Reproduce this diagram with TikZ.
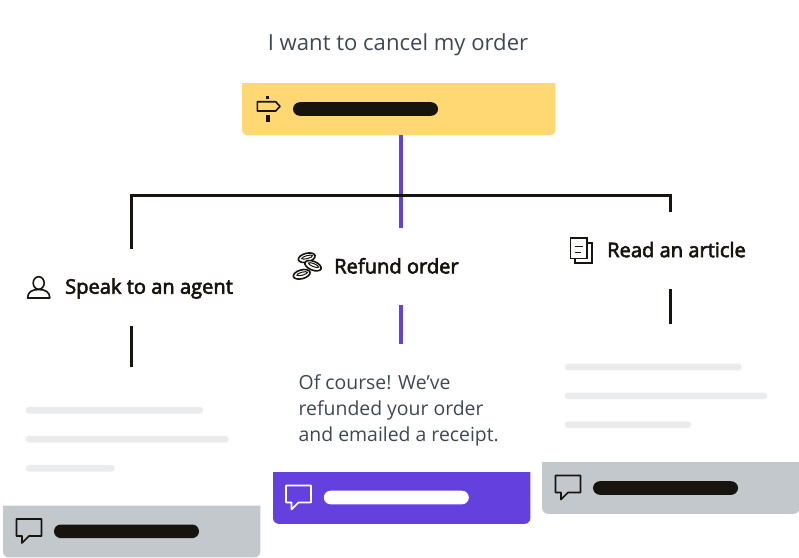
\documentclass[tikz,border=0pt]{standalone}
\usepackage{fontspec}
\setmainfont{Open Sans}
\newfontfamily\headfont[FakeBold=3]{Open Sans}
\usetikzlibrary{positioning}
\definecolor{ink}{HTML}{17140E}
\definecolor{slate}{HTML}{3F4852}
\definecolor{sun}{HTML}{FFD773}
\definecolor{violet}{HTML}{6440DE}
\definecolor{steel}{HTML}{C3C8CD}
\definecolor{mist}{HTML}{EAEBEC}
\tikzstyle{card} = [rectangle, minimum width=257pt, minimum height=51.5pt, inner sep=0pt, anchor=north west]
\tikzstyle{bar} = [rectangle, rounded corners=6.8pt, minimum width=145pt, minimum height=13.6pt, inner sep=0pt, fill=ink]
\tikzstyle{ghost} = [rectangle, rounded corners=3.2pt, minimum height=6.6pt, inner sep=0pt, fill=mist, anchor=north west]
\tikzstyle{title} = [text=ink, font=\fontsize{20.1}{24}\selectfont\headfont, anchor=west, inner sep=0pt]
\tikzstyle{blackline} = [ink, line width=3pt]
\tikzstyle{violetline} = [violet, line width=3.6pt]
\tikzstyle{icon} = [ink, line width=1.6pt]
\tikzset{bubble/.pic={
  \draw [line width=1.7pt, line join=round] (-12.5,-12) -- (12.5,-12) -- (12.5,5) -- (0,5) -- (-7,12) -- (-7,5) -- (-12.5,5) -- cycle;
}}
% bottom corners only
\newcommand{\cardfill}[2]{\fill [#2] (#1.north west) -- (#1.north east) [rounded corners=6pt] -- (#1.south east) -- (#1.south west) [sharp corners] -- cycle;}
\begin{document}
\begin{tikzpicture}[x=1pt, y=-1pt]
\useasboundingbox (0,0) rectangle (799,557);

\node (ask) [text=slate, font=\fontsize{22.1}{26}\selectfont, inner sep=0pt] at (398,45) {I want to cancel my order};

% cards
\node (topcard) [card, minimum width=313pt, minimum height=52pt] at (242,83) {};
\node (agentcard) [card] at (3,505.5) {};
\node (refundcard) [card] at (273,472) {};
\node (articlecard) [card] at (542,462) {};
\cardfill{topcard}{sun}
\cardfill{agentcard}{steel}
\cardfill{refundcard}{violet}
\cardfill{articlecard}{steel}
\node (topbar) [bar] at (365.5,109) {};
\node (agentbar) [bar] at (126.5,531.3) {};
\node (refundbar) [bar, fill=white] at (396.3,497.5) {};
\node (articlebar) [bar] at (665.5,488) {};

% headings
\node (agent) [title] at (65,288.5) {Speak to an agent};
\node (refund) [title] at (334,265.8) {Refund order};
\node (article) [title] at (607,249.6) {Read an article};

% connectors
\coordinate (stemend) at (401,228);
\coordinate (cornerleft) at (131.5,195.5);
\coordinate (cornerright) at (670,195.5);
\coordinate (dropleft) at (131.5,249);
\coordinate (dropright) at (670,212);
\coordinate (agenttop) at (131.5,326);
\coordinate (agentend) at (131.5,367);
\coordinate (refundtop) at (401,305);
\coordinate (refundend) at (401,344);
\coordinate (articletop) at (670,289);
\coordinate (articleend) at (670,324);
\draw [violetline] (topcard.south -| stemend) -- (stemend);
\draw [blackline] (dropleft) -- (cornerleft) -- (cornerright) -- (dropright);
\draw [blackline] (agenttop) -- (agentend);
\draw [violetline] (refundtop) -- (refundend);
\draw [blackline] (articletop) -- (articleend);

% placeholder text
\node (ghosta) [ghost, minimum width=177.5pt] at (25.5,406.7) {};
\node (ghostb) [ghost, minimum width=203pt] at (25.5,435.7) {};
\node (ghostc) [ghost, minimum width=89pt] at (25.5,464.7) {};
\node (ghostd) [ghost, minimum width=177pt] at (564.5,363.5) {};
\node (ghoste) [ghost, minimum width=202.5pt] at (564.5,392.3) {};
\node (ghostf) [ghost, minimum width=126.5pt] at (564.5,421.2) {};

\node (reply) [text=slate, font=\fontsize{19.4}{26}\selectfont, align=left, anchor=west, inner sep=0pt] at (298.5,410.5) {Of course! We’ve\\refunded your order\\and emailed a receipt.};

% icons
\pic [ink] at (29,531) {bubble};
\pic [white] at (298.5,497.5) {bubble};
\pic [ink] at (568,487.5) {bubble};

% signpost
\fill [ink] (266.2,96) rectangle (269.4,99.2);
\fill [ink] (266.4,114.5) rectangle (269.6,122);
\draw [icon, line join=round] (257.3,101.7) -- (275.7,101.7) -- (280,106.4) -- (275.7,111) -- (257.3,111) -- cycle;

% person
\draw [icon] (38.7,283) ellipse [x radius=5.5pt, y radius=6.3pt];
\draw [icon, line join=round] (27.6,298) .. controls (27.6,292) and (32,289.5) .. (38.7,289.5) .. controls (45.4,289.5) and (49.8,292) .. (49.8,298) -- cycle;

% coins
\foreach \cx/\cy/\ang in {306.7/257.7/15, 313/265.7/-22, 301.7/274.3/15} {
  \draw [icon, fill=white] (\cx,\cy) ellipse [x radius=8.6pt, y radius=4.4pt, rotate=\ang];
  \draw [ink, line width=1pt] (\cx+0.5,\cy-0.6) ellipse [x radius=5.5pt, y radius=1.5pt, rotate=\ang];
}

% article
\draw [icon] (587,243) -- (591.7,243) -- (591.7,262.7) -- (575,262.7) -- (575,258.3);
\draw [icon] (570.5,238) rectangle (586.8,258.3);
\draw [icon] (575,246.5) -- (583,246.5);
\draw [icon] (575,252.3) -- (581,252.3);
\end{tikzpicture}
\end{document}
